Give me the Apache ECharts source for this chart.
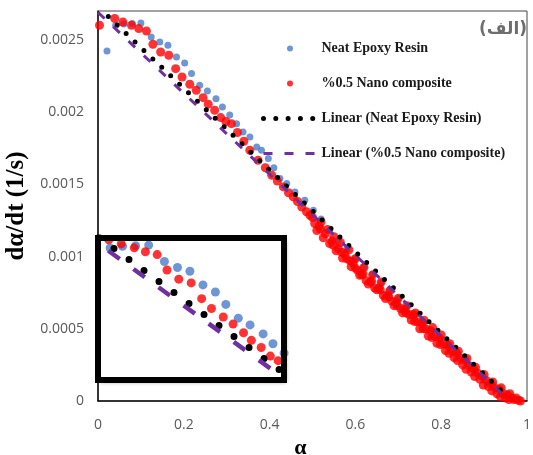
<!DOCTYPE html>
<html>
<head>
<meta charset="utf-8">
<script src="https://cdn.jsdelivr.net/npm/echarts@6/dist/echarts.min.js"></script>
<style>html,body{margin:0;padding:0;background:#fff}#c{width:533px;height:455px}</style>
</head>
<body>
<div id="c"></div>
<script>
// ---- data ----
const alphaNeat = [0.021,0.041,0.060,0.080,0.100,0.124,0.144,0.163,0.183,0.202,0.218,0.237,0.255,0.275,0.290,0.307,0.323,0.338,0.354,0.370,0.381,0.397,0.410,0.424,0.440,0.459,0.482,0.502,0.52,0.54,0.56,0.58,0.60,0.62,0.64,0.66,0.68,0.70,0.72,0.74,0.76,0.78,0.80,0.82,0.84,0.86,0.88,0.90,0.92,0.94,0.96,0.975];
const rateNeat = [0.002423,0.0026,0.00261,0.002613,0.002617,0.00252,0.002485,0.002463,0.002382,0.00234,0.002267,0.002186,0.002146,0.002093,0.002035,0.00198,0.00192,0.001863,0.001828,0.001758,0.001736,0.001678,0.001615,0.00154,0.001505,0.001447,0.001389,0.00132,0.00126,0.00118,0.00111,0.00105,0.00099,0.00093,0.00088,0.00082,0.00077,0.00071,0.00065,0.0006,0.00054,0.00048,0.00043,0.00037,0.00032,0.00026,0.0002,0.00015,0.0001,0.00005,0.00002,0.00001];

const alphaNano = [0.0035,0.039,0.058,0.078,0.095,0.113,0.128,0.146,0.165,0.181,0.196,0.214,0.229,0.245,0.257,0.272,0.286,0.298,0.311,0.325,0.34,0.354,0.373,0.39,0.405,0.418,0.432,0.444,0.455,0.465,0.475,0.486,0.494,
 0.50,0.505,0.515,0.52,0.53,0.535,0.545,0.55,0.56,0.565,0.575,0.58,0.585,0.595,0.60,0.605,0.615,0.62,0.625,0.635,0.64,0.645,0.655,0.66,0.665,0.675,0.68,0.685,0.695,0.70,0.705,0.715,0.72,0.725,0.735,0.74,0.745,0.755,0.76,0.765,0.775,0.78,0.785,0.795,0.80,0.805,0.815,0.82,0.825,0.835,0.84,0.845,0.855,0.86,0.865,0.875,0.88,0.885,0.895,0.90,0.905,0.915,0.92,0.925,0.935,0.94,0.945,0.955,0.96,0.965,0.97,0.975,0.98,
 0.51,0.525,0.54,0.555,0.57,0.59,0.61,0.63,0.65,0.67,0.69,0.71,0.73,0.75,0.77,0.79,0.81,0.83,0.85,0.87,0.89,0.91,0.93,0.95,0.985,
 0.518,0.548,0.568,0.588,0.6,0.618,0.638,0.658,0.678,0.698,0.718,0.738,0.758,0.778,0.798,0.818,0.838,0.858,0.878,0.898,0.918,0.938,0.958];
const rateNano = [0.002601,0.002648,0.002624,0.002601,0.002578,0.002561,0.00247,0.002416,0.002394,0.002301,0.002243,0.002193,0.002151,0.0021,0.002055,0.002013,0.001962,0.001935,0.00192,0.001859,0.001798,0.001736,0.001667,0.001615,0.001563,0.001523,0.001482,0.001442,0.001413,0.001381,0.001343,0.00131,0.001286,
 0.00127,0.001229,0.001209,0.001239,0.001158,0.001188,0.001107,0.001137,0.001056,0.001097,0.001016,0.000985,0.001046,0.000955,0.000985,0.000904,0.000873,0.000924,0.000833,0.000823,0.000873,0.000782,0.000782,0.000823,0.000731,0.000731,0.000762,0.000691,0.00068,0.000711,0.00064,0.00063,0.00066,0.000599,0.000599,0.000609,0.000548,0.000538,0.000559,0.000498,0.000487,0.000508,0.000447,0.000437,0.000457,0.000396,0.000386,0.000396,0.000345,0.000335,0.000345,0.000295,0.000284,0.000295,0.000244,0.000223,0.000234,0.000193,0.000173,0.000183,0.000142,0.000122,0.000132,0.000091,0.000081,0.000091,0.000051,0.000041,0.000051,0.00002,0.00001,0.00002,0.000005,
 0.00118,0.00113,0.00109,0.00104,0.00099,0.00093,0.00087,0.00081,0.00077,0.00071,0.00066,0.00061,0.00056,0.0005,0.00045,0.0004,0.00035,0.0003,0.00025,0.0002,0.00015,0.0001,0.00005,0.00002,0.0,
 0.00119,0.00108,0.00103,0.00097,0.00092,0.00088,0.00083,0.00077,0.00072,0.00066,0.00061,0.00055,0.0005,0.00044,0.00039,0.00033,0.00028,0.00022,0.00017,0.00011,0.00007,0.00003,0.00001];

const fitNeatAlpha = [0.024, 0.955];
const fitNeatRate = [0.002662, 0.00003];
const fitNanoAlpha = [0, 0.96];
const fitNanoRate = [0.002691, 0.0];

const xTickValues = [0, 0.2, 0.4, 0.6, 0.8, 1];
const xTickLabels = ['0', '0.2', '0.4', '0.6', '0.8', '1'];
const yTickValues = [0, 0.0005, 0.001, 0.0015, 0.002, 0.0025];
const yTickLabels = ['0', '0.0005', '0.001', '0.0015', '0.002', '0.0025'];

const seriesNames = ['Neat Epoxy Resin', '%0.5 Nano composite', 'Linear (Neat Epoxy Resin)', 'Linear (%0.5 Nano composite)'];
// inset (magnified view of the upper-left part)
const insetAlphaRange = [0.0225, 0.3069];
const insetRateRange = [0.001821, 0.002659];

// ---- build ----
const zip = (a, b) => a.map((v, i) => [v, b[i]]);
const neatPts = zip(alphaNeat, rateNeat);
const nanoPts = zip(alphaNano, rateNano);
const neatFit = zip(fitNeatAlpha, fitNeatRate);
const nanoFit = zip(fitNanoAlpha, fitNanoRate);
const lookup = (vals, labels) => v => { const i = vals.findIndex(t => Math.abs(t - v) < 1e-9); return i >= 0 ? labels[i] : ''; };

const BLUE = '#4A7CCB', RED = '#FF0000', BLACK = '#000000', PURPLE = '#7030A0';
const labelStyle = { color: '#595959', fontFamily: 'Open Sans', fontSize: 14 };
const serifBold = { fontFamily: 'Liberation Serif', fontWeight: 'bold', color: '#000' };

function makeSeries(ax, inset) {
  return [
    { name: seriesNames[0], type: 'scatter', xAxisIndex: ax, yAxisIndex: ax, data: neatPts,
      symbolSize: inset ? 9 : 7, itemStyle: { color: BLUE }, z: inset ? 21 : 2, clip: true },
    { name: seriesNames[1], type: 'scatter', xAxisIndex: ax, yAxisIndex: ax, data: nanoPts,
      symbolSize: inset ? 9 : 9, itemStyle: { color: RED }, z: inset ? 22 : 3, clip: true },
    { name: seriesNames[2], type: 'line', xAxisIndex: ax, yAxisIndex: ax, data: neatFit, symbol: 'none',
      lineStyle: { color: BLACK, width: inset ? 7 : 5, type: inset ? [0, 18.6] : [0, 12.3], cap: 'round' },
      itemStyle: { color: BLACK }, z: inset ? 23 : 4, clip: true },
    { name: seriesNames[3], type: 'line', xAxisIndex: ax, yAxisIndex: ax, data: nanoFit, symbol: 'none',
      lineStyle: { color: PURPLE, width: inset ? 4.5 : 3, type: inset ? [14, 17] : [9, 12], cap: 'butt' },
      itemStyle: { color: PURPLE }, z: inset ? 24 : 4, clip: true }
  ];
}

const chart = echarts.init(document.getElementById('c'), null, { renderer: 'canvas' });
chart.setOption({
  animation: false,
  backgroundColor: '#fff',
  title: {
    text: '(الف)', right: 6, top: 21, padding: 0,
    textStyle: { fontFamily: 'DejaVu Sans', fontSize: 17, fontWeight: 'bold', color: '#6e6e6e' }
  },
  legend: {
    orient: 'vertical', left: 261, top: 41, padding: 0, itemWidth: 53, itemHeight: 6, itemGap: 20,
    textStyle: { fontFamily: 'Liberation Serif', fontWeight: 'bold', fontSize: 14, color: '#1a1a1a', lineHeight: 15 },
    data: [
      { name: seriesNames[0], icon: 'circle' },
      { name: seriesNames[1], icon: 'circle' },
      { name: seriesNames[2], lineStyle: { width: 5 }, itemStyle: { opacity: 0 } },
      { name: seriesNames[3], lineStyle: { width: 3 }, itemStyle: { opacity: 0 } }
    ]
  },
  grid: [
    { left: 98, right: 6, top: 11, bottom: 54, outerBoundsMode: 'none', containLabel: false,
      show: true, borderColor: '#444', borderWidth: 1, backgroundColor: 'transparent' },
    { left: 98, top: 238, width: 186, height: 142, outerBoundsMode: 'none', containLabel: false,
      show: true, backgroundColor: '#fff', borderWidth: 0,
      shadowBlur: 4, shadowColor: 'rgba(0,0,0,0.45)', shadowOffsetX: 2, shadowOffsetY: 2, z: 10 },
    { left: 98, top: 238, width: 186, height: 142, outerBoundsMode: 'none', containLabel: false,
      show: true, backgroundColor: 'transparent', borderColor: '#000', borderWidth: 6, z: 30 }
  ],
  xAxis: [
    { type: 'value', gridIndex: 0, min: 0, max: 1, interval: 0.2,
      name: 'α', nameLocation: 'middle', nameGap: 30,
      nameTextStyle: Object.assign({ fontSize: 22, padding: [0, 24, 0, 0] }, serifBold),
      axisLine: { lineStyle: { color: '#111', width: 1.5 } }, axisTick: { show: false }, splitLine: { show: false },
      axisLabel: Object.assign({ margin: 17, formatter: lookup(xTickValues, xTickLabels) }, labelStyle) },
    { type: 'value', gridIndex: 1, min: insetAlphaRange[0], max: insetAlphaRange[1], show: false },
    { type: 'value', gridIndex: 2, min: 0, max: 1, show: false }
  ],
  yAxis: [
    { type: 'value', gridIndex: 0, min: 0, max: 0.0027, interval: 0.0005,
      name: 'dα/dt (1/s)', nameLocation: 'middle', nameGap: 52,
      nameTextStyle: Object.assign({ fontSize: 25 }, serifBold),
      axisLine: { show: true, lineStyle: { color: '#111', width: 1.5 } }, axisTick: { show: false }, splitLine: { show: false },
      axisLabel: Object.assign({ margin: 14, formatter: lookup(yTickValues, yTickLabels) }, labelStyle) },
    { type: 'value', gridIndex: 1, min: insetRateRange[0], max: insetRateRange[1], show: false },
    { type: 'value', gridIndex: 2, min: 0, max: 1, show: false }
  ],
  series: makeSeries(0, false).concat(makeSeries(1, true))
});
</script>
</body>
</html>
